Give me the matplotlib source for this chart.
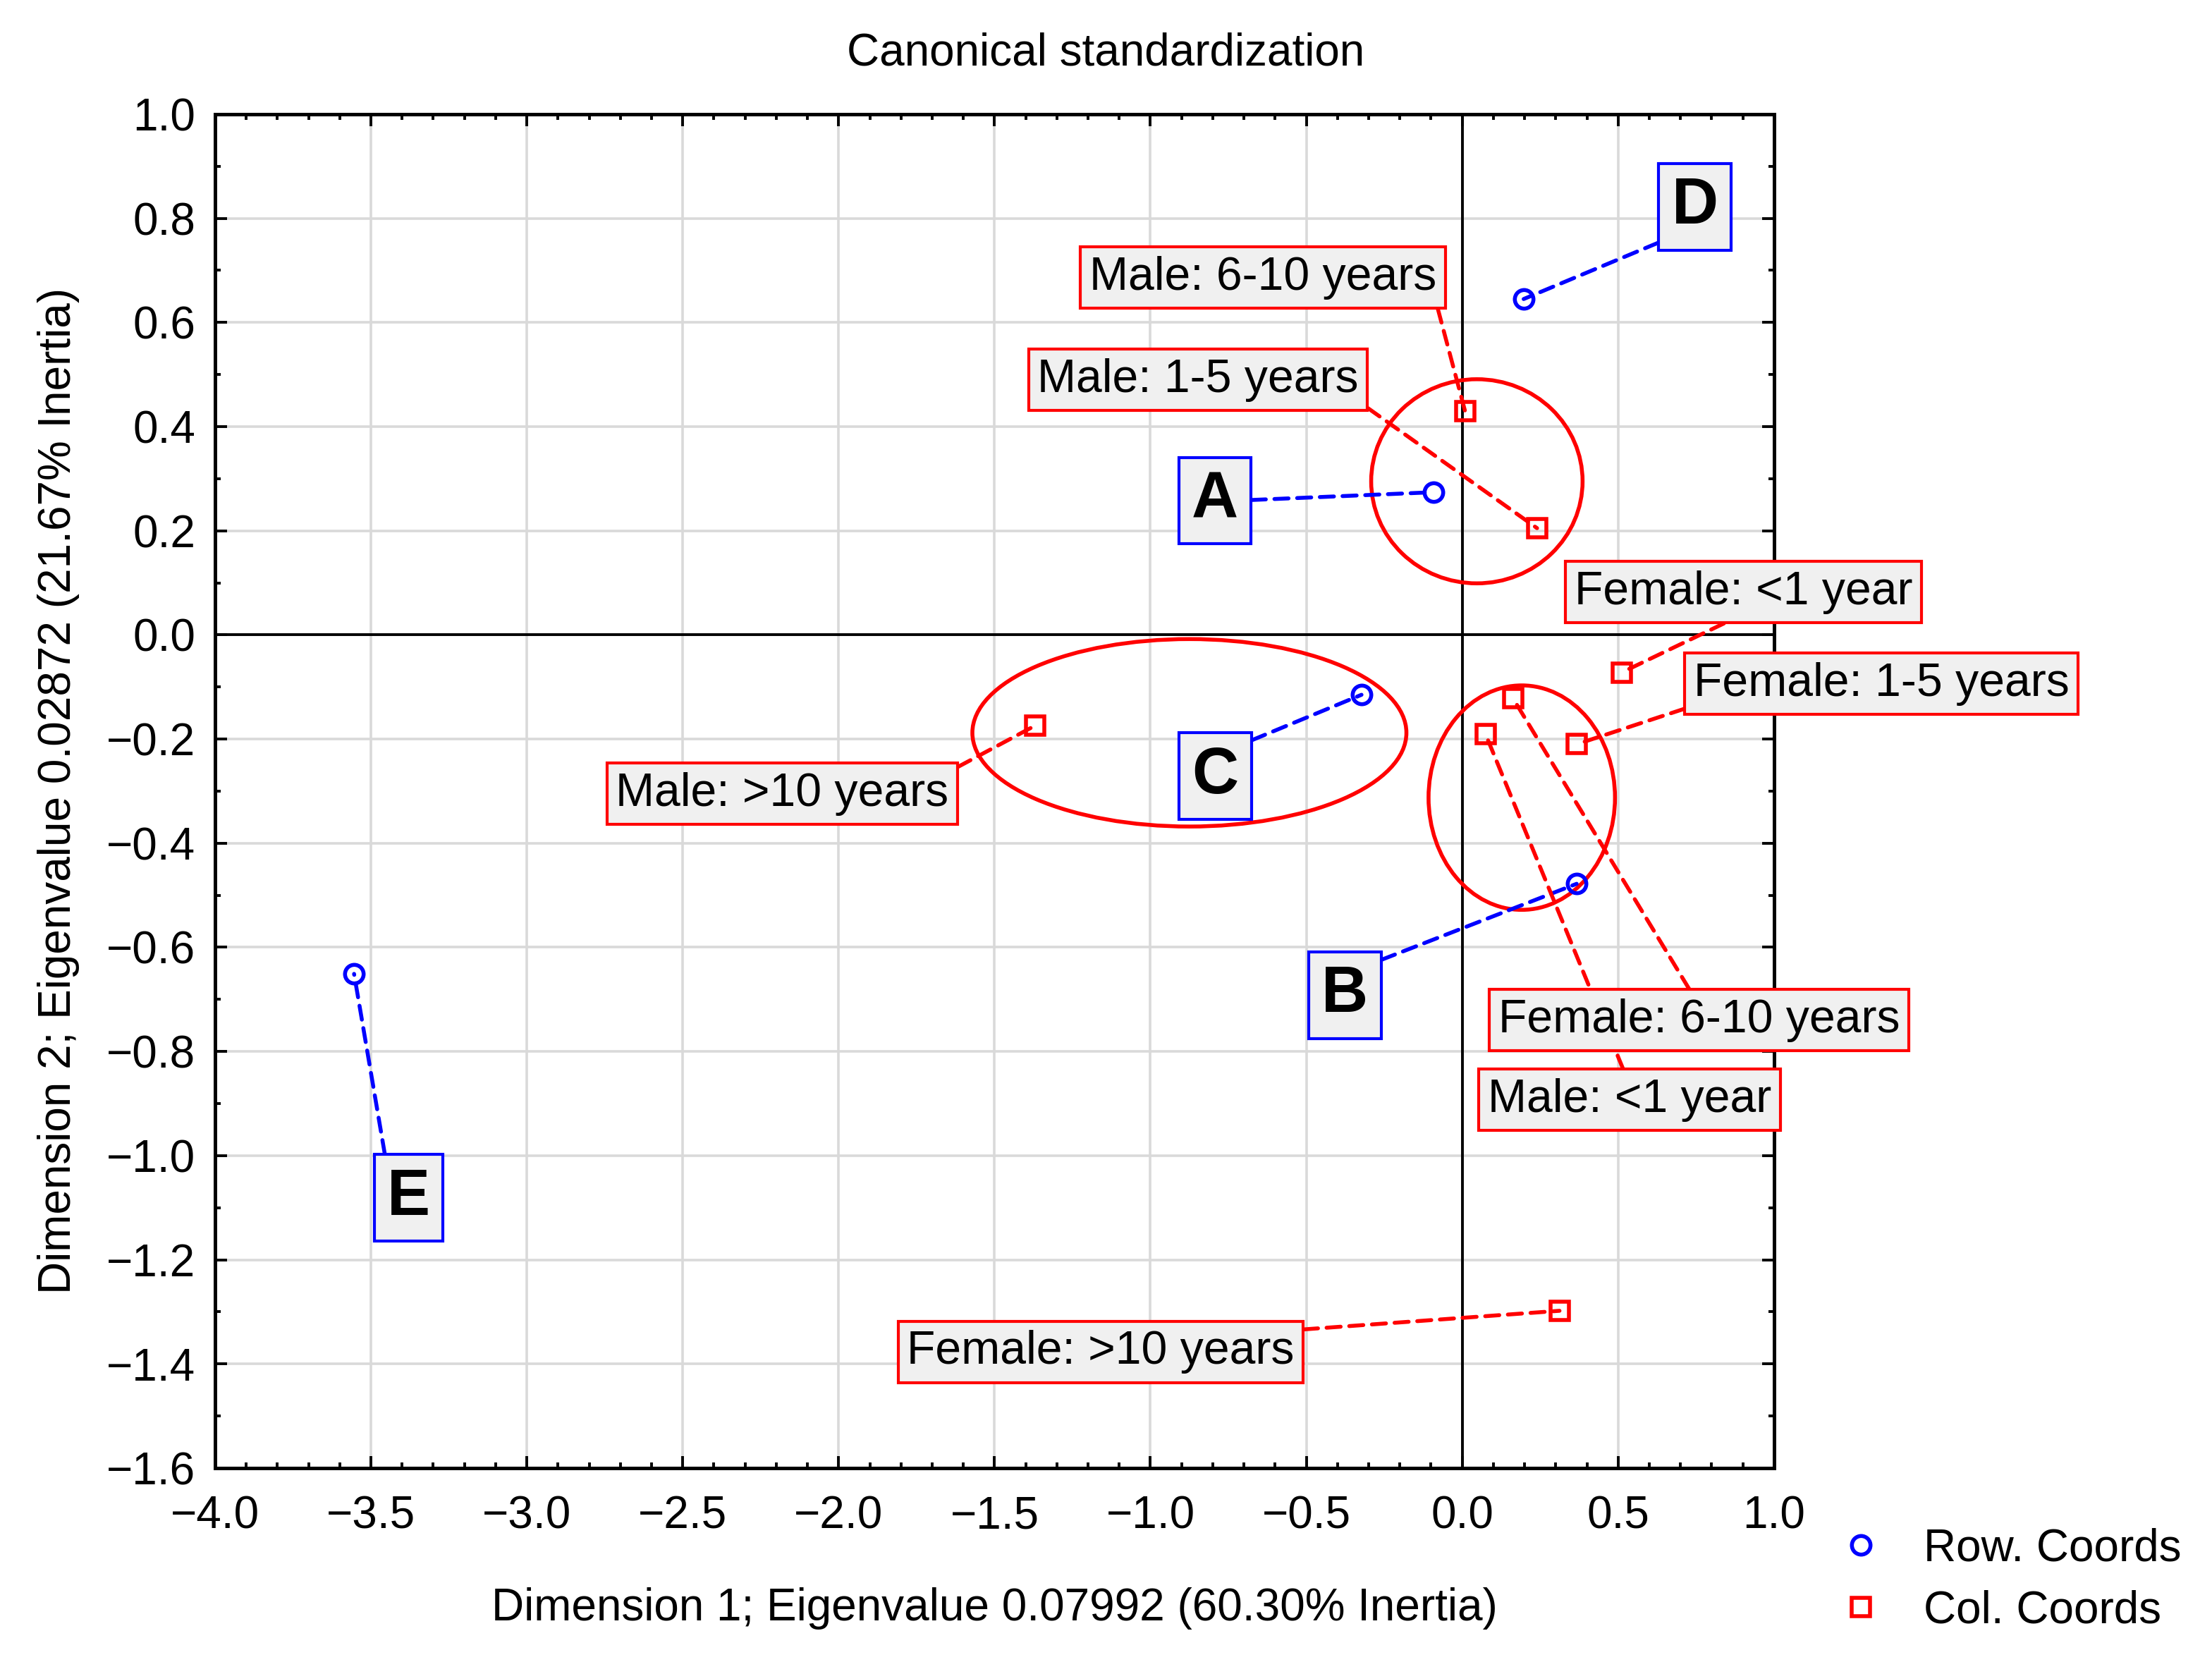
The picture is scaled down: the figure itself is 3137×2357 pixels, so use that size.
import matplotlib
matplotlib.use("Agg")
import matplotlib.pyplot as plt
from matplotlib.patches import Ellipse
from matplotlib.ticker import MultipleLocator, FuncFormatter

plt.rcParams['font.family'] = ['Liberation Sans', 'DejaVu Sans']

# ----------------------------
# Data: row / column coordinates
# ----------------------------
row_names = ['A', 'B', 'C', 'D', 'E']
row_x = [-0.093, 0.367, -0.323, 0.197, -3.554]
row_y = [0.274, -0.478, -0.115, 0.645, -0.651]

col_names = ['Male: <1 year', 'Male: 1-5 years', 'Male: 6-10 years',
             'Male: >10 years', 'Female: <1 year', 'Female: 1-5 years',
             'Female: 6-10 years', 'Female: >10 years']
col_x = [0.075, 0.240, 0.009, -1.369, 0.512, 0.367, 0.163, 0.312]
col_y = [-0.191, 0.205, 0.430, -0.174, -0.072, -0.210, -0.122, -1.298]

# label placement (data coords) and where the leader leaves the box
row_lab_pos = [(-0.793, 0.258), (-0.376, -0.692), (-0.792, -0.271),
               (0.746, 0.822), (-3.379, -1.081)]
row_relpos = [(1, 0.5), (1, 1), (1, 1), (0, 0), (0, 1)]

col_lab_pos = [(0.537, -0.893), (-0.847, 0.490), (-0.639, 0.686),
               (-2.181, -0.305), (0.902, 0.082), (1.345, -0.094),
               (0.759, -0.740), (-1.159, -1.377)]
col_relpos = [(0.49, 1), (1, 0), (1, -0.1), (1, 1), (0.5, 0), (0, 0),
              (0.49, 1), (1, 1)]

# grouping ellipses: centre, width, height
groups = [((0.047, 0.295), 0.678, 0.392),
          ((-0.875, -0.188), 1.392, 0.360),
          ((0.191, -0.3125), 0.598, 0.431)]

blue = '#0000ff'
red = '#ff0000'
dash = (0, (3.6, 2.2))
fs = 23

# ----------------------------
# Figure setup
# ----------------------------
fig = plt.figure(figsize=(15.685, 11.785), dpi=200)
ax = fig.add_axes([0.0972, 0.1167, 0.7048, 0.8146])
ax.set_xlim(-4.0, 1.0)
ax.set_ylim(-1.6, 1.0)

minus_fmt = FuncFormatter(lambda v, p: f'{v:.1f}'.replace('-', '\u2212'))
ax.xaxis.set_major_locator(MultipleLocator(0.5))
ax.xaxis.set_minor_locator(MultipleLocator(0.1))
ax.yaxis.set_major_locator(MultipleLocator(0.2))
ax.yaxis.set_minor_locator(MultipleLocator(0.1))
ax.xaxis.set_major_formatter(minus_fmt)
ax.yaxis.set_major_formatter(minus_fmt)

ax.grid(True, which='major', color='#d9d9d9', lw=1.3, zorder=0)
ax.set_axisbelow(True)
for s in ax.spines.values():
    s.set_linewidth(1.8)
ax.tick_params(which='both', direction='in', top=True, right=True,
               width=1.4, labelsize=fs)
ax.tick_params(which='major', length=6)
ax.tick_params(which='minor', length=3)
ax.tick_params(axis='x', pad=14)
ax.tick_params(axis='y', pad=10)

ax.axhline(0, color='black', lw=1.4, zorder=1)
ax.axvline(0, color='black', lw=1.4, zorder=1)

# ----------------------------
# Points
# ----------------------------
ax.plot(row_x, row_y, 'o', ls='none', ms=9.5, mfc='none', mec=blue, mew=2.0,
        zorder=6, label='Row. Coords')
ax.plot(col_x, col_y, 's', ls='none', ms=9.5, mfc='none', mec=red, mew=2.0,
        zorder=6, label='Col. Coords')

# ----------------------------
# Labels with dashed leaders
# ----------------------------
for name, x, y, pos, rp in zip(row_names, row_x, row_y, row_lab_pos, row_relpos):
    ax.annotate(name, xy=(x, y), xytext=pos, textcoords='data',
                ha='center', va='center', fontsize=33, fontweight='bold',
                bbox=dict(boxstyle='square,pad=0.2', fc='#f0f0f0', ec=blue, lw=1.5),
                arrowprops=dict(arrowstyle='-', color=blue, lw=2.0, ls=dash,
                                shrinkA=0, shrinkB=0, relpos=rp),
                zorder=5, annotation_clip=False)

for name, x, y, pos, rp in zip(col_names, col_x, col_y, col_lab_pos, col_relpos):
    ax.annotate(name, xy=(x, y), xytext=pos, textcoords='data',
                ha='center', va='center', fontsize=23.8,
                bbox=dict(boxstyle='square,pad=0.19', fc='#f0f0f0', ec=red, lw=1.5),
                arrowprops=dict(arrowstyle='-', color=red, lw=2.0, ls=dash,
                                shrinkA=0, shrinkB=0, relpos=rp),
                zorder=5, annotation_clip=False)

# ----------------------------
# Grouping ellipses
# ----------------------------
for c, w, h in groups:
    ax.add_patch(Ellipse(c, w, h, fill=False, ec=red, lw=2.0, zorder=4))

# ----------------------------
# Titles and legend
# ----------------------------
fig.text(0.5, 0.968, 'Canonical standardization', ha='center', va='center',
         fontsize=fs)
ax.set_xlabel('Dimension 1; Eigenvalue 0.07992 (60.30% Inertia)', fontsize=fs)
ax.xaxis.set_label_coords(0.5, -0.088)
ax.set_ylabel('Dimension 2; Eigenvalue 0.02872 (21.67% Inertia)', fontsize=fs)
ax.yaxis.set_label_coords(-0.087, 0.5)

fig.legend(loc='upper left', bbox_to_anchor=(0.831, 0.081), frameon=False,
           fontsize=fs, handlelength=1.0, handletextpad=0.9,
           borderpad=0, borderaxespad=0, labelspacing=0.45)

fig.savefig('out.png', dpi=200)
